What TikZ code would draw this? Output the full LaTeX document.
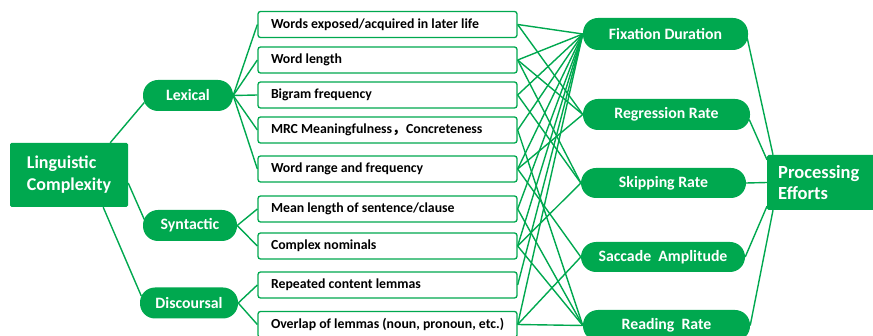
\documentclass[tikz,border=0pt]{standalone}
\usepackage{fontspec}
\setmainfont{Carlito}
\newfontfamily\cjk{Noto Sans CJK SC}
\usetikzlibrary{calc}
\definecolor{gr}{HTML}{00A84F}
\newcommand{\ftxt}[1]{\makebox[233pt][l]{#1}}
\begin{document}
\begin{tikzpicture}[x=1pt,y=-1pt,
  conn/.style={draw=gr,line width=1.4pt},
  feat/.style={draw=gr,line width=1.3pt,fill=white,rounded corners=2.5pt,
    minimum width=259pt,minimum height=26pt,inner xsep=13pt,
    font=\bfseries\fontsize{13.8}{15}\selectfont},
  pill/.style={fill=gr,text=white,rounded corners=15pt,minimum height=31pt,
    inner sep=0pt,font=\bfseries\fontsize{15.8}{17}\selectfont},
  bigbox/.style={fill=gr,text=white,rounded corners=1.5pt,align=left,
    font=\bfseries\fontsize{18}{22}\selectfont,inner sep=0pt}
]
\useasboundingbox (0,0) rectangle (873,336);
% left
\node[bigbox,minimum width=118pt,minimum height=64pt] (lc) at (69,175) {Linguistic\\Complexity};
\node[pill,minimum width=90pt] (lex) at (188,95.5) {Lexical};
\node[pill,minimum width=94pt] (syn) at (190,225.5) {Syntactic};
\node[pill,minimum width=98pt] (dis) at (189,303) {Discoursal};
% features
\node[feat] (f1) at (387.5,24.5) {\ftxt{Words exposed/acquired in later life}};
\node[feat] (f2) at (387.5,60) {\ftxt{Word length}};
\node[feat] (f3) at (387.5,95) {\ftxt{Bigram frequency}};
\node[feat] (f4) at (387.5,130) {\ftxt{MRC Meaningfulness{\cjk ，}Concreteness}};
\node[feat] (f5) at (387.5,169) {\ftxt{Word range and frequency}};
\node[feat] (f6) at (387.5,209) {\ftxt{Mean length of sentence/clause}};
\node[feat] (f7) at (387.5,246) {\ftxt{Complex nominals}};
\node[feat] (f8) at (387.5,285) {\ftxt{Repeated content lemmas}};
\node[feat] (f9) at (387.5,324.5) {\ftxt{Overlap of lemmas (noun, pronoun, etc.)}};
% metrics
\node[pill,minimum width=165pt,minimum height=32pt] (fix) at (665.5,34) {Fixation Duration};
\node[pill,minimum width=167pt] (reg) at (666.5,114.5) {Regression Rate};
\node[pill,minimum width=165pt,minimum height=30pt] (skp) at (663.5,183) {Skipping Rate};
\node[pill,minimum width=164pt,minimum height=30pt] (sac) at (663,257) {Saccade\ \ Amplitude};
\node[pill,minimum width=167pt] (rdr) at (666.5,325.5) {Reading\ \ Rate};
\node[bigbox,minimum width=118pt,minimum height=55pt,text width=96pt,
  font=\bfseries\fontsize{18.5}{21}\selectfont,anchor=west] (pe) at (767,182.5) {Processing\\Efforts};
% left connectors
\draw[conn] ($(lc.north east)+(-18,0)$) -- ($(lex.west)+(1.5,7)$);
\draw[conn] ($(lc.east)+(0,8)$) -- ($(syn.west)+(1.5,-6)$);
\draw[conn] ($(lc.south east)+(-25,0)$) -- ($(dis.west)+(1.5,-7)$);
\foreach \f in {f1,f2,f3,f4,f5} \draw[conn] (lex.east) -- (\f.west);
\foreach \f in {f6,f7} \draw[conn] (syn.east) -- (\f.west);
\foreach \f in {f8,f9} \draw[conn] (dis.east) -- (\f.west);
% feature -> metric
\foreach \f in {f1,f2,f3,f4,f5,f6,f7,f8,f9} \draw[conn] (\f.east) -- (fix.west);
\foreach \f in {f1,f2,f5} \draw[conn] (\f.east) -- (reg.west);
\foreach \f in {f2,f3,f7} \draw[conn] (\f.east) -- (skp.west);
\foreach \f in {f5,f9} \draw[conn] (\f.east) -- (sac.west);
\foreach \f in {f4,f6,f7,f9} \draw[conn] (\f.east) -- (rdr.west);
% metric -> processing efforts
\draw[conn] ($(fix.east)+(-1,4)$) -- ($(pe.north west)+(6,0)$);
\draw[conn] ($(reg.east)+(-1,5)$) -- ($(pe.north west)+(0,5)$);
\draw[conn] (skp.east) -- (pe.west);
\draw[conn] (sac.east) -- ($(pe.south west)+(0,-4)$);
\draw[conn] (rdr.east) -- ($(pe.south west)+(6,0)$);
\end{tikzpicture}
\end{document}
